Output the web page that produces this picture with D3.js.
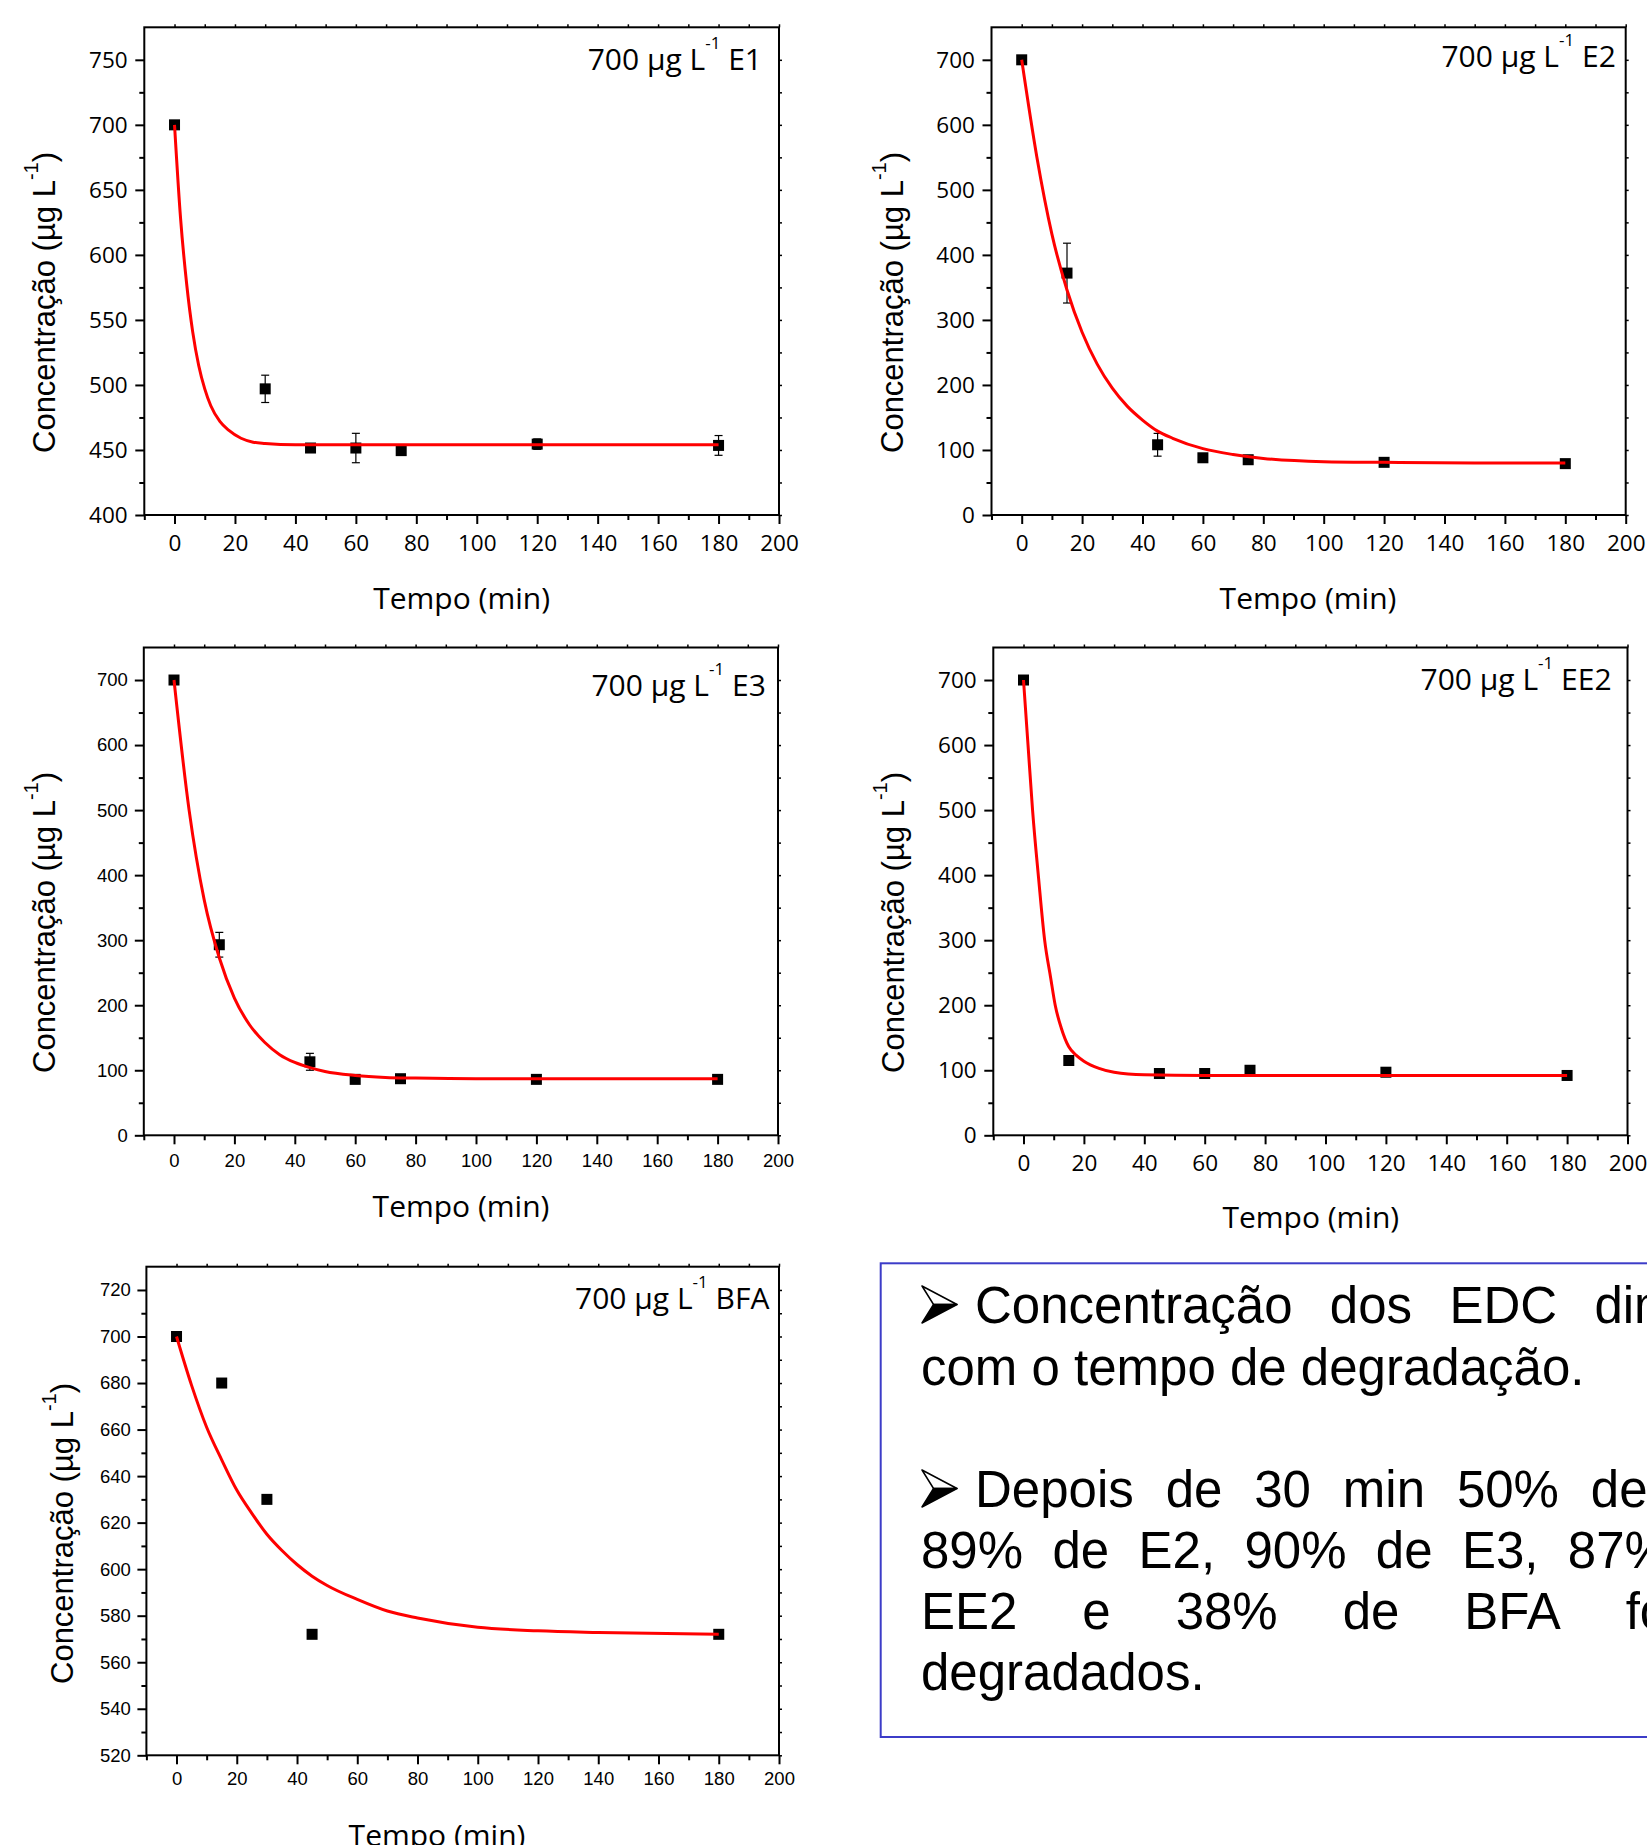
<!DOCTYPE html>
<html><head><meta charset="utf-8">
<script src="https://cdn.jsdelivr.net/npm/d3@7/dist/d3.min.js"></script>
<style>body{margin:0;background:#fff;} svg{display:block;}</style>
</head><body>
<svg id="c" width="1647" height="1845"></svg>
<script>
// ---------------- DATA ----------------
const xTickValues = [0,20,40,60,80,100,120,140,160,180,200];
const xMinorValues = [-10,10,30,50,70,90,110,130,150,170,190];

// E1
const timeE1 = [0,30,45,60,75,120,180];
const concE1 = [700,497,451.5,451.5,449.5,454.5,453.5];
const errE1  = [0,10.5,3,11.3,2,4,7.6];
const fitTimeE1 = [0,2,4,6,8,10,12,15,18,22,26,30,40,60,100,140,180];
const fitConcE1 = [700,628,578,541,515,497,484,472,465,459,456,455,454,454,454,454,454];
const yTicksE1 = [400,450,500,550,600,650,700,750];
const yMinorE1 = [425,475,525,575,625,675,725];

// E2
const timeE2 = [0,15,45,60,75,120,180];
const concE2 = [700,372,108,88,85,81,79];
const errE2  = [0,46,17.5,3,3,2,2];
const fitTimeE2 = [0,5,10,15,20,25,30,35,40,45,50,60,70,80,100,120,150,180];
const fitConcE2 = [700,551,432,346,281,232,195,167,146,129,118,102,93,87,82,81,80,80];

// E3
const timeE3 = [0,15,45,60,75,120,180];
const concE3 = [700,293,113,86,87,86,86];
const errE3  = [0,19,13,3,3,2,3];
const fitTimeE3 = [0,5,10,15,20,25,30,35,40,45,50,60,70,80,100,140,180];
const fitConcE3 = [700,500,362,273,211,170,143,124,112,104,98,92,89,88,87,87,87];

// EE2
const timeEE2 = [0,15,45,60,75,120,180];
const concEE2 = [700,115,95,95,100,97,92];
const errEE2  = [0,7,3,2,2,2,2];
const fitTimeEE2 = [0,1.5,3,5,7,9,10.5,12.5,15,17.5,20,25,30,40,60,100,180];
const fitConcEE2 = [700,600,500,395,300,242,200,165,136,123,114,103,97,93,92,92,92];

const yTicks0to700 = [0,100,200,300,400,500,600,700];
const yMinor0to700 = [50,150,250,350,450,550,650];

// BFA
const timeBFA = [0,15,30,45,180];
const concBFA = [700,680,630,572,572];
const errBFA  = [0,0,0,0,0];
const fitTimeBFA = [0,5,10,15,20,25,30,35,40,45,50,60,70,80,100,120,140,180];
const fitConcBFA = [700,679,661,647,634,624,615,608,602,597,593,587,582,579,575,573.5,572.8,572];
const yTicksBFA = [520,540,560,580,600,620,640,660,680,700,720];
const yMinorBFA = [530,550,570,590,610,630,650,670,690,710];

const compounds = ["E1","E2","E3","EE2","BFA"];
const xTitle = "Tempo (min)";

// ---------------- LAYOUT ----------------
const OPEN = "'Open Sans', sans-serif";
const ARIAL = "'Liberation Sans', Arial, sans-serif";

const panels = [
  {name:"E1", t:timeE1, c:concE1, e:errE1, ft:fitTimeE1, fc:fitConcE1, yDom:[400,775], yT:yTicksE1, yM:yMinorE1,
   L:144.3, R:779, T:27.3, B:515, tf:OPEN, tfs:22.5, xPad:11, yPad:7.6,
   lab:[762,70.4], xt:[461.6,609], yt:[54.8,453]},
  {name:"E2", t:timeE2, c:concE2, e:errE2, ft:fitTimeE2, fc:fitConcE2, yDom:[0,750], yT:yTicks0to700, yM:yMinor0to700,
   L:991.5, R:1625.7, T:27.3, B:515, tf:OPEN, tfs:22.5, xPad:11, yPad:7.6,
   lab:[1615.8,67.2], xt:[1308,609], yt:[903.4,453]},
  {name:"E3", t:timeE3, c:concE3, e:errE3, ft:fitTimeE3, fc:fitConcE3, yDom:[0,750], yT:yTicks0to700, yM:yMinor0to700,
   L:143.8, R:778, T:647.5, B:1135.3, tf:ARIAL, tfs:18.5, xPad:10, yPad:7,
   lab:[765.8,696], xt:[461,1217], yt:[54.8,1073]},
  {name:"EE2", t:timeEE2, c:concEE2, e:errEE2, ft:fitTimeEE2, fc:fitConcEE2, yDom:[0,750], yT:yTicks0to700, yM:yMinor0to700,
   L:993.3, R:1627.5, T:647.5, B:1135.3, tf:OPEN, tfs:22.5, xPad:11, yPad:7.6,
   lab:[1611.6,690.4], xt:[1310.8,1228.4], yt:[904.4,1073]},
  {name:"BFA", t:timeBFA, c:concBFA, e:errBFA, ft:fitTimeBFA, fc:fitConcBFA, yDom:[520,730], yT:yTicksBFA, yM:yMinorBFA,
   L:146.4, R:779, T:1266.7, B:1755.3, tf:ARIAL, tfs:18.5, xPad:8, yPad:6.6,
   lab:[769.4,1309.4], xt:[437,1846], yt:[73,1684]}
];

const svg = d3.select("#c");
svg.append("rect").attr("width",1647).attr("height",1845).attr("fill","#fff");

function drawPanel(p){
  const g = svg.append("g");
  const x = d3.scaleLinear().domain([-10,200]).range([p.L,p.R]);
  const y = d3.scaleLinear().domain(p.yDom).range([p.B,p.T]);

  // bottom axis
  const gx = g.append("g").attr("transform",`translate(0,${p.B})`)
    .call(d3.axisBottom(x).tickValues(xTickValues).tickSize(9).tickPadding(p.xPad).tickFormat(d3.format("d")));
  const gxm = g.append("g").attr("transform",`translate(0,${p.B})`)
    .call(d3.axisBottom(x).tickValues(xMinorValues).tickSize(5).tickFormat(""));
  // left axis
  const gy = g.append("g").attr("transform",`translate(${p.L},0)`)
    .call(d3.axisLeft(y).tickValues(p.yT).tickSize(9).tickPadding(p.yPad).tickFormat(d3.format("d")));
  const gym = g.append("g").attr("transform",`translate(${p.L},0)`)
    .call(d3.axisLeft(y).tickValues(p.yM).tickSize(5).tickFormat(""));
  // top & right small ticks
  const gt = g.append("g").attr("transform",`translate(0,${p.T})`)
    .call(d3.axisTop(x).tickValues(xTickValues.concat(xMinorValues.slice(1))).tickSize(3).tickFormat(""));
  const gr = g.append("g").attr("transform",`translate(${p.R},0)`)
    .call(d3.axisRight(y).tickValues(p.yT.concat(p.yM)).tickSize(3).tickFormat(""));

  [gx,gxm,gy,gym,gt,gr].forEach(a=>{
    a.select(".domain").remove();
    a.selectAll(".tick line").attr("stroke","#000").attr("stroke-width",2);
    a.selectAll(".tick text").attr("fill","#000").style("font-family",p.tf).style("font-size",p.tfs+"px");
  });
  [gt,gr].forEach(a=>a.selectAll(".tick line").attr("stroke-width",1.5));

  // frame
  g.append("rect").attr("x",p.L).attr("y",p.T).attr("width",p.R-p.L).attr("height",p.B-p.T)
    .attr("fill","none").attr("stroke","#000").attr("stroke-width",2);

  // data
  const pts = p.t.map((t,i)=>({t, c:p.c[i], e:p.e[i]}));
  const eb = g.append("g").attr("stroke","#000").attr("stroke-width",1.2);
  pts.filter(d=>d.e>0).forEach(d=>{
    eb.append("line").attr("x1",x(d.t)).attr("x2",x(d.t)).attr("y1",y(d.c-d.e)).attr("y2",y(d.c+d.e));
    eb.append("line").attr("x1",x(d.t)-4).attr("x2",x(d.t)+4).attr("y1",y(d.c-d.e)).attr("y2",y(d.c-d.e));
    eb.append("line").attr("x1",x(d.t)-4).attr("x2",x(d.t)+4).attr("y1",y(d.c+d.e)).attr("y2",y(d.c+d.e));
  });
  g.append("g").selectAll("rect").data(pts).join("rect")
    .attr("x",d=>x(d.t)-5.5).attr("y",d=>y(d.c)-5.5).attr("width",11).attr("height",11).attr("fill","#000");

  const fit = p.ft.map((t,i)=>[t,p.fc[i]]);
  g.append("path").datum(fit)
    .attr("d",d3.line().x(d=>x(d[0])).y(d=>y(d[1])).curve(d3.curveMonotoneX))
    .attr("fill","none").attr("stroke","#ff0000").attr("stroke-width",3);

  // panel label
  const lt = g.append("text").attr("x",p.lab[0]).attr("y",p.lab[1]).attr("text-anchor","end")
    .style("font-family",OPEN).style("font-size","30px").attr("fill","#000");
  lt.append("tspan").text("700 \u00b5g L");
  lt.append("tspan").attr("dy",-21).style("font-size","17px").text("-1");
  lt.append("tspan").attr("dy",21).text("\u00a0" + p.name);

  // x title
  g.append("text").attr("x",p.xt[0]).attr("y",p.xt[1]).attr("text-anchor","middle")
    .style("font-family",OPEN).style("font-size","30px").attr("fill","#000").text(xTitle);

  // y title
  const yt = g.append("text").attr("transform",`translate(${p.yt[0]},${p.yt[1]}) rotate(-90)`)
    .attr("text-anchor","start").style("font-family",ARIAL).style("font-size","31px").attr("fill","#000");
  yt.append("tspan").text("Concentra\u00e7\u00e3o (\u00b5g L");
  yt.append("tspan").attr("dy",-17).style("font-size","20px").text("-1");
  yt.append("tspan").attr("dy",17).text(")");
}
panels.forEach(drawPanel);

// ---------------- TEXT BOX ----------------
const box = svg.append("g");
box.append("rect").attr("x",880.7).attr("y",1263.3).attr("width",900).attr("height",473.7)
  .attr("fill","none").attr("stroke","#3c3cc8").attr("stroke-width",2);

const lines = [
  {words:["Concentra\u00e7\u00e3o","dos","EDC","diminui"], x:975, y:1323, justify:true, bullet:true},
  {words:["com o tempo de degrada\u00e7\u00e3o."], x:921, y:1385, justify:false},
  {words:["Depois","de","30","min","50%","de","E1,"], x:975, y:1507, justify:true, bullet:true},
  {words:["89%","de","E2,","90%","de","E3,","87%","de"], x:921, y:1568, justify:true},
  {words:["EE2","e","38%","de","BFA","foram"], x:921, y:1629, justify:true},
  {words:["degradados."], x:921, y:1690, justify:false}
];
const rightEdge = 1756;
lines.forEach(l=>{
  const texts = l.words.map(w=>box.append("text").attr("y",l.y)
    .style("font-family",ARIAL).style("font-size","51px").attr("fill","#000").text(w));
  const widths = texts.map(t=>t.node().getComputedTextLength());
  let gap = 14.2;
  if(l.justify && texts.length>1){
    gap = (rightEdge - l.x - d3.sum(widths))/(texts.length-1);
  }
  let cx = l.x;
  texts.forEach((t,i)=>{ t.attr("x",cx); cx += widths[i] + gap; });
  if(l.bullet){
    const bx = 922, by = l.y - 37, w = 35, h = 37;
    const up = `M${bx},${by} L${bx+w},${by+h*0.5} L${bx+w*0.33},${by+h*0.5} Z`;
    const lo = `M${bx+w*0.33},${by+h*0.5} L${bx+w},${by+h*0.5} L${bx},${by+h} Z`;
    box.append("path").attr("d",up).attr("fill","#fff").attr("stroke","#000").attr("stroke-width",1.5).attr("stroke-linejoin","round");
    box.append("path").attr("d",lo).attr("fill","#000").attr("stroke","#000").attr("stroke-width",1.5).attr("stroke-linejoin","round");
  }
});
</script>
</body></html>
